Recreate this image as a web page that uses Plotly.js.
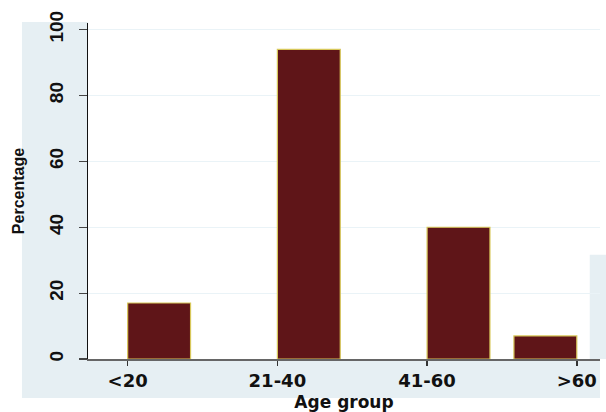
<!DOCTYPE html>
<html>
<head>
<meta charset="utf-8">
<script src="https://cdn.plot.ly/plotly-3.0.1.min.js"></script>
<style>html,body{margin:0;padding:0;background:#fff;}#chart{width:606px;height:412px;}</style>
</head>
<body>
<div id="chart"></div>
<script>
const ageGroups = ['<20', '21-40', '41-60', '>60'];
const percentages = [17, 94, 40, 7];
const yTicks = [0, 20, 40, 60, 80, 100];

const barWidth = 0.42;
const trace = {
  type: 'bar',
  x: ageGroups,
  y: percentages,
  width: barWidth,
  offset: [0, 0, 0, -barWidth],
  marker: {color: '#5f1518', line: {color: '#d8c85a', width: 1.2}},
  hoverinfo: 'x+y'
};

const yFont = {family: 'Liberation Sans, Arial, sans-serif', color: '#111', weight: 'bold'};
const xFont = {family: 'DejaVu Sans, Verdana, sans-serif', color: '#111', weight: 'bold'};
const band = '#e6eff3';

const layout = {
  width: 606, height: 412,
  margin: {l: 88, r: 6, t: 23, b: 53},
  paper_bgcolor: '#ffffff',
  plot_bgcolor: '#ffffff',
  showlegend: false,
  bargap: 0,
  xaxis: {
    type: 'category',
    range: [-0.265, 3.155],
    showline: true, linecolor: '#666', linewidth: 1.5,
    ticks: 'outside', ticklen: 5, tickcolor: '#333', tickwidth: 1.5,
    showgrid: false, zeroline: false,
    tickfont: Object.assign({size: 18}, xFont),
    title: {text: 'Age group', font: Object.assign({size: 17}, xFont), standoff: 13},
    automargin: false
  },
  yaxis: {
    range: [0, 102],
    tickvals: yTicks,
    ticktext: yTicks.map(String),
    tickangle: -90,
    showline: true, linecolor: '#111', linewidth: 1.5,
    ticks: 'outside', ticklen: 8, tickcolor: '#444', tickwidth: 1.2,
    ticklabelstandoff: 8,
    showgrid: true, gridcolor: '#eaf3f7', gridwidth: 1,
    zeroline: false,
    tickfont: Object.assign({size: 19}, yFont),
    title: {text: 'Percentage', font: Object.assign({size: 16}, yFont), standoff: 17},
    automargin: false
  },
  shapes: [
    {type: 'rect', xref: 'paper', yref: 'paper', x0: -0.129, x1: 0, y0: -0.116, y1: 1.003,
     fillcolor: band, line: {width: 0}, layer: 'below'},
    {type: 'rect', xref: 'paper', yref: 'paper', x0: 0, x1: 1.0, y0: -0.116, y1: 0,
     fillcolor: band, line: {width: 0}, layer: 'below'},
    {type: 'rect', xref: 'paper', yref: 'paper', x0: 0.98, x1: 1.012, y0: 0, y1: 0.31,
     fillcolor: band, line: {width: 0}, layer: 'below'}
  ]
};

Plotly.newPlot('chart', [trace], layout, {displayModeBar: false, staticPlot: true});
</script>
</body>
</html>
